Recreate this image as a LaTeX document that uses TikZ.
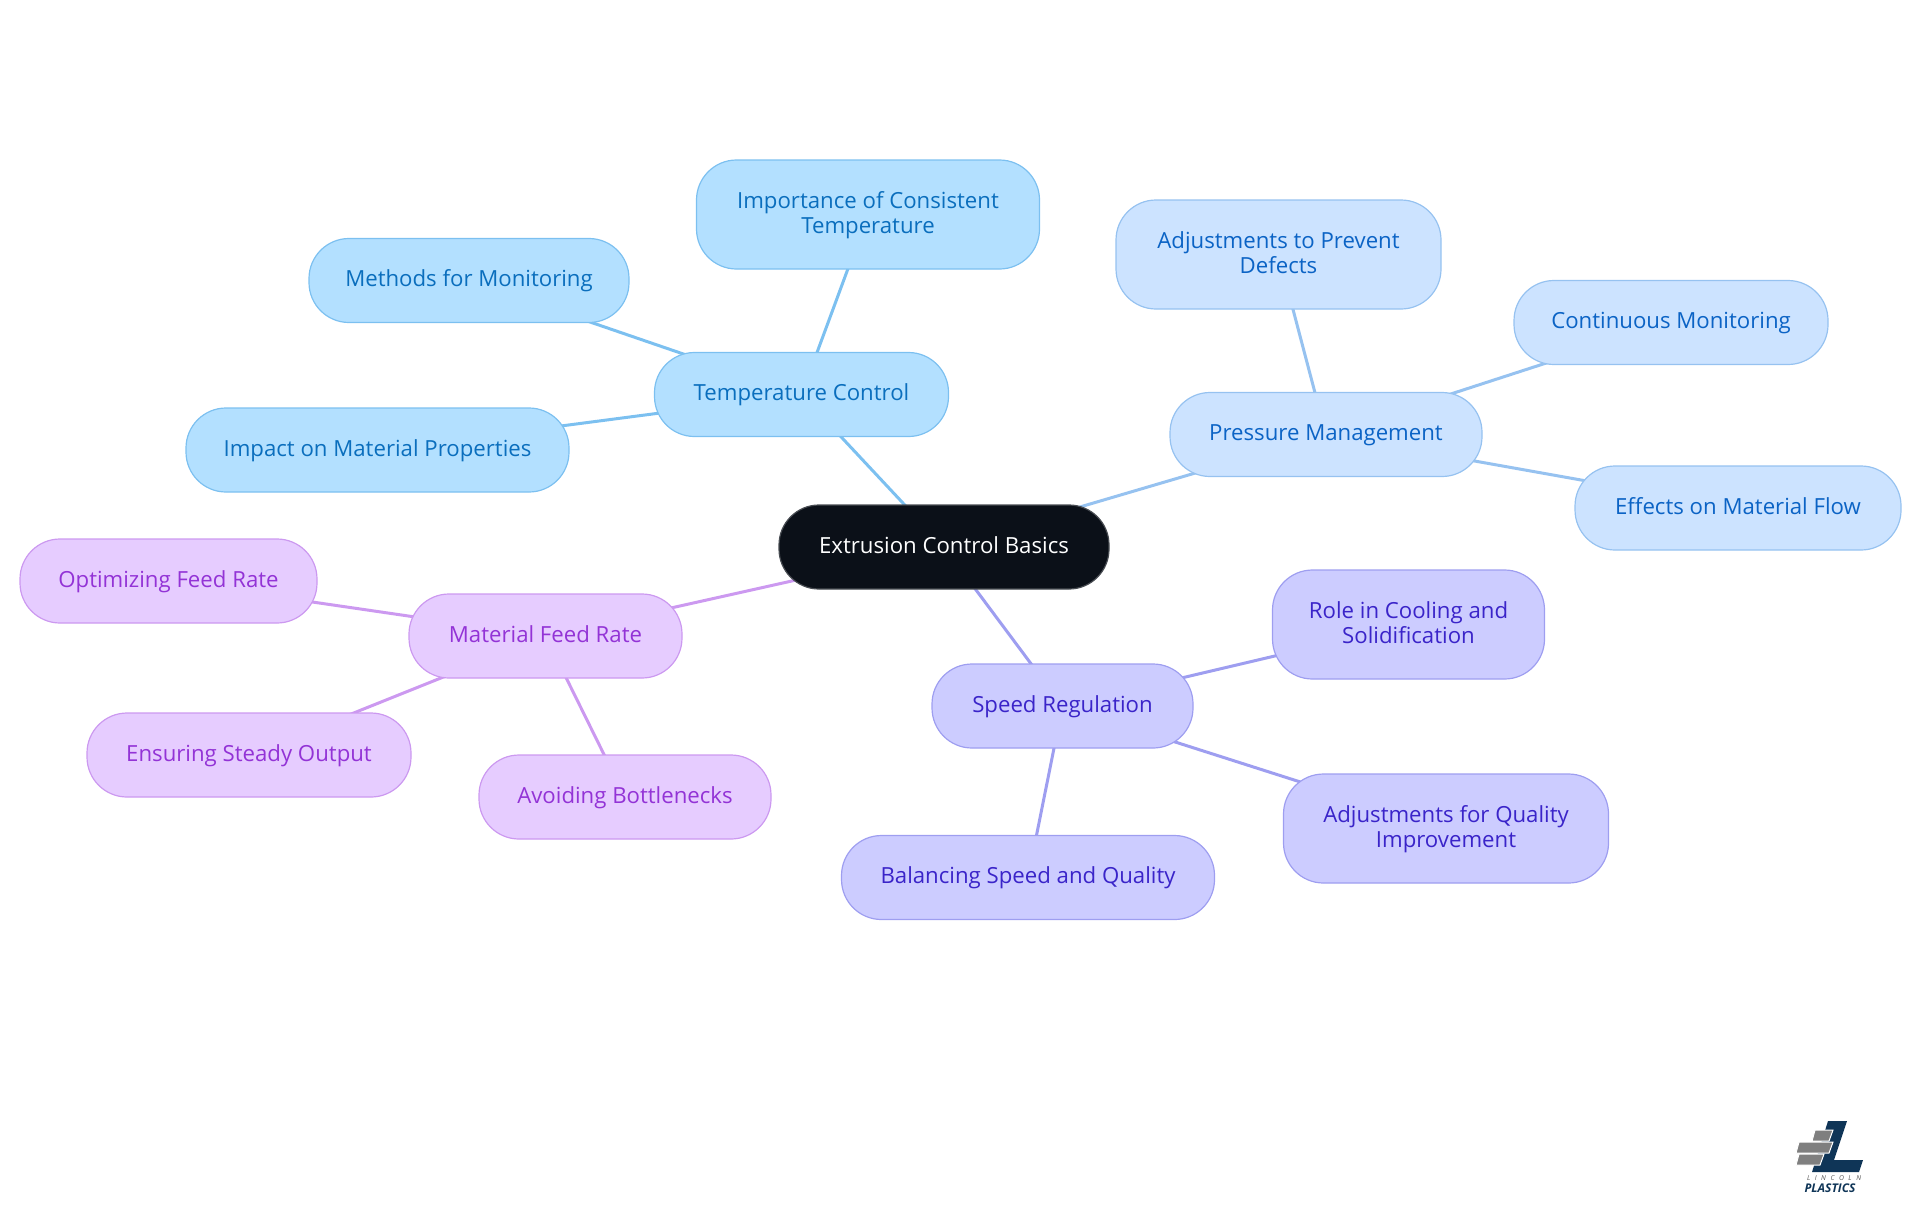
\documentclass[tikz,border=0pt]{standalone}
\usepackage{fontspec}
\setmainfont{Open Sans}
\usetikzlibrary{backgrounds}
\definecolor{rootf}{HTML}{0B1018}
\definecolor{tf}{HTML}{B3E0FF}\definecolor{ts}{HTML}{7CC0F0}\definecolor{tt}{HTML}{0A6EBD}
\definecolor{pf}{HTML}{CCE3FF}\definecolor{ps}{HTML}{96C2F0}\definecolor{pt}{HTML}{0B63C5}
\definecolor{sf}{HTML}{CCCCFF}\definecolor{ss}{HTML}{9E9EF0}\definecolor{st}{HTML}{3A24C9}
\definecolor{mf}{HTML}{E6CCFF}\definecolor{ms}{HTML}{CC99F0}\definecolor{mt}{HTML}{9333D6}
\definecolor{navy}{HTML}{0F3557}\definecolor{brick}{HTML}{7F7F7F}\definecolor{inkgray}{HTML}{555555}
\tikzset{
 x=0.5pt,y=-0.5pt,
 box/.style={draw,line width=0.6pt,rounded corners=20pt,align=center,inner sep=0pt,font=\fontsize{11.1}{12.5}\selectfont},
 rootbox/.style={box,fill=rootf,draw=rootf!75!white,text=white},
 tbox/.style={box,fill=tf,draw=ts,text=tt},
 pbox/.style={box,fill=pf,draw=ps,text=pt},
 sbox/.style={box,fill=sf,draw=ss,text=st},
 mbox/.style={box,fill=mf,draw=ms,text=mt},
 link/.style={line width=1.5pt}
}
\newcommand{\mk}[7]{\node[#1,minimum width=#5*0.5pt,minimum height=#6*0.5pt] (#2) at (#3,#4) {\rule{0pt}{9.95pt}#7\strut};}
\begin{document}
\begin{tikzpicture}
\useasboundingbox (0,0) rectangle (1920,1215);
\mk{rootbox}{root}{944}{547}{330}{84}{Extrusion Control Basics}
\mk{tbox}{temp}{801.5}{394.5}{294}{84}{Temperature Control}
\mk{tbox}{imp}{868}{214.5}{343}{109}{Importance of Consistent\\Temperature}
\mk{tbox}{meth}{469}{280.5}{320}{84}{Methods for Monitoring}
\mk{tbox}{prop}{377.5}{450}{383}{84}{Impact on Material Properties}
\mk{pbox}{pres}{1326}{434.5}{312}{84}{Pressure Management}
\mk{pbox}{def}{1278.5}{254.5}{325}{109}{Adjustments to Prevent\\Defects}
\mk{pbox}{cont}{1671}{322.5}{314}{84}{Continuous Monitoring}
\mk{pbox}{flow}{1738}{508}{326}{84}{Effects on Material Flow}
\mk{mbox}{feed}{545.5}{636}{273}{84}{Material Feed Rate}
\mk{mbox}{opt}{168.5}{581}{297}{84}{Optimizing Feed Rate}
\mk{mbox}{out}{249}{755}{324}{84}{Ensuring Steady Output}
\mk{mbox}{bot}{625}{797}{292}{84}{Avoiding Bottlenecks}
\mk{sbox}{speed}{1062.5}{706}{261}{84}{Speed Regulation}
\mk{sbox}{cool}{1408.5}{624.5}{272}{109}{Role in Cooling and\\Solidification}
\mk{sbox}{qual}{1446}{828.5}{325}{109}{Adjustments for Quality\\Improvement}
\mk{sbox}{bal}{1028}{877.5}{373}{84}{Balancing Speed and Quality}
\begin{scope}[on background layer]
\foreach \a/\b/\c in {root/temp/ts,temp/imp/ts,temp/meth/ts,temp/prop/ts,
 root/pres/ps,pres/def/ps,pres/cont/ps,pres/flow/ps,
 root/feed/ms,feed/opt/ms,feed/out/ms,feed/bot/ms,
 root/speed/ss,speed/cool/ss,speed/qual/ss,speed/bal/ss}
 \draw[link,draw=\c] (\a.center) -- (\b.center);
\end{scope}
% logo
\fill[navy] (1828,1121) -- (1847,1121) -- (1834,1160) -- (1863,1160) -- (1859,1172) -- (1812,1172) -- cycle;
\fill[brick,draw=white,line width=0.5pt] (1815,1130) -- (1833,1130) -- (1829,1141) -- (1812,1141) -- cycle;
\fill[brick,draw=white,line width=0.5pt] (1799,1142) -- (1833,1142) -- (1829,1153) -- (1796,1153) -- cycle;
\fill[brick,draw=white,line width=0.5pt] (1799,1154) -- (1824,1154) -- (1820,1165) -- (1796,1165) -- cycle;
\node[text=inkgray,font=\fontsize{3.4}{3.4}\selectfont\itshape,inner sep=0pt] (lincoln) at (1834,1178.5) {L\,\,\,\,I\,\,\,\,N\,\,\,\,C\,\,\,\,O\,\,\,\,L\,\,\,\,N};
\node[text=navy,font=\fontsize{6}{6}\selectfont\bfseries\itshape,inner sep=0pt] (plastics) at (1830,1188.5) {PLASTICS};
\end{tikzpicture}
\end{document}
